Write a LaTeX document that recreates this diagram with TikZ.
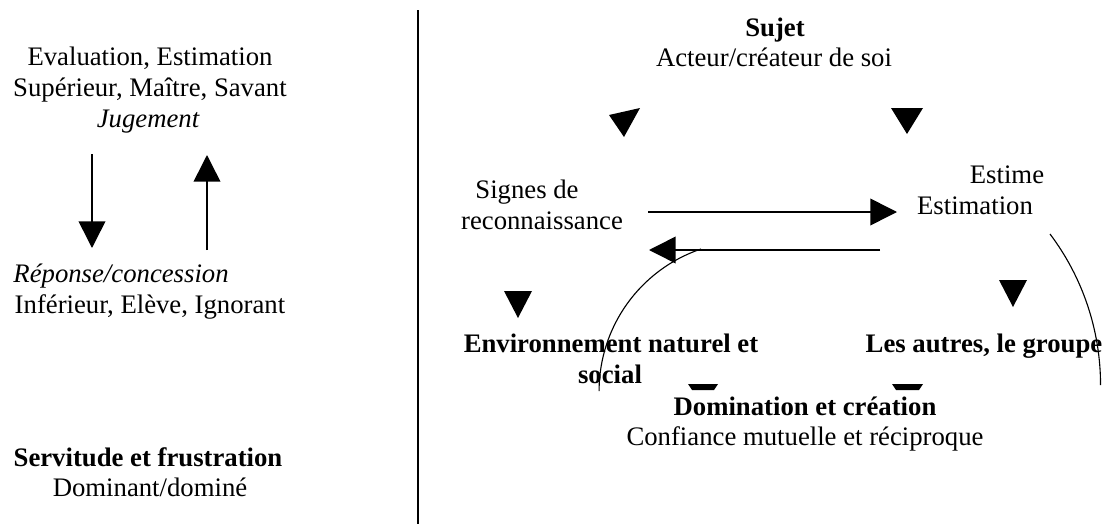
\documentclass[tikz,border=0pt]{standalone}
\usepackage{fontspec}
\setmainfont{Liberation Serif}
\usetikzlibrary{arrows.meta}
\begin{document}
\begin{tikzpicture}[x=0.449pt,y=-0.449pt,
    txt/.style={anchor=base,inner sep=0pt,font=\fontsize{12}{14}\selectfont},
    btxt/.style={txt,font=\fontsize{12}{14}\selectfont\bfseries},
    itxt/.style={txt,font=\fontsize{12}{14}\selectfont\itshape},
    arr/.style={line width=0.7pt,-{Triangle[length=12pt,width=12pt]}},
    loop/.style={line width=0.5pt}]
    \useasboundingbox (0,0) rectangle (1116,524);
    \node[txt] (eval) at (150,65) {Evaluation, Estimation};
    \node[txt] (sup) at (150,96) {Supérieur, Maître, Savant};
    \node[itxt] (jug) at (148,127) {Jugement};
    \node[itxt,anchor=base west] (rep) at (13,282) {Réponse/concession};
    \node[txt] (inf) at (150,313) {Inférieur, Elève, Ignorant};
    \node[btxt] (serv) at (148,466) {Servitude et frustration};
    \node[txt] (domi) at (150,496) {Dominant/dominé};
    \coordinate (d1) at (92,154); \coordinate (d2) at (92,248);
    \coordinate (u1) at (207,250); \coordinate (u2) at (207,155);
    \draw[arr] (d1) -- (d2);
    \draw[arr] (u1) -- (u2);
    \coordinate (s1) at (418,10); \coordinate (s2) at (418,524);
    \draw[line width=0.9pt] (s1) -- (s2);
    \node[btxt] (sujet) at (775,37) {Sujet};
    \node[txt] (acteur) at (774,67) {Acteur/créateur de soi};
    \node[txt] (signes) at (527,198) {Signes de};
    \node[txt] (recon) at (542,229) {reconnaissance};
    \node[txt] (estime) at (1007,183) {Estime};
    \node[txt] (estim) at (975,214) {Estimation};
    \coordinate (r1) at (648,212); \coordinate (r2) at (897,212);
    \coordinate (l1) at (880,250); \coordinate (l2) at (649,250);
    \draw[arr] (r1) -- (r2);
    \draw[arr] (l1) -- (l2);
    \fill (609,115) -- (640,108) -- (624,137) -- cycle;
    \fill (891,108) -- (923,108) -- (907,134) -- cycle;
    \fill (504,291) -- (532,291) -- (518,318) -- cycle;
    \fill (999,280) -- (1027,280) -- (1013,307) -- cycle;
    \node[btxt] (env) at (611,352) {Environnement naturel et};
    \node[btxt] (soc) at (610,383) {social};
    \node[btxt] (autres) at (984,352) {Les autres, le groupe};
    \fill (688,384) -- (718,384) -- (714,390) -- (692,390) -- cycle;
    \fill (892,384) -- (923,384) -- (919,390) -- (896,390) -- cycle;
    \node[btxt] (dom) at (805,415) {Domination et création};
    \node[txt] (conf) at (805,445) {Confiance mutuelle et réciproque};
    \draw[loop] (701,249) arc[start angle=251.3,end angle=180,radius=150];
    \draw[loop] (1050,234) arc[start angle=-37,end angle=0,radius=251];
\end{tikzpicture}
\end{document}
